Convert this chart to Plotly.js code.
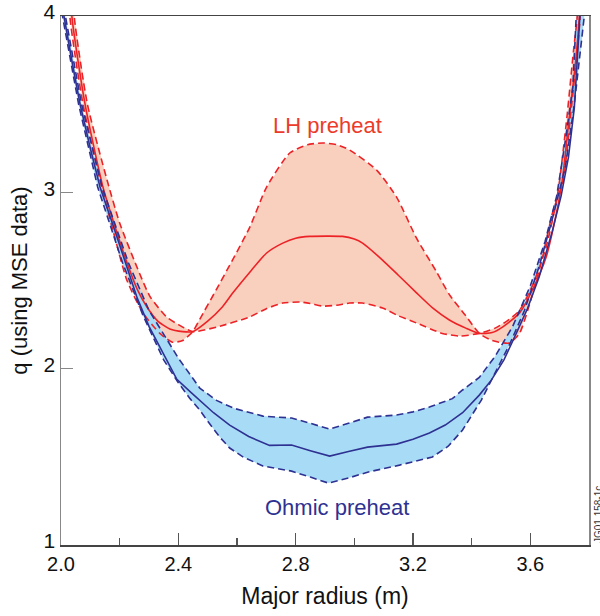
<!DOCTYPE html>
<html><head><meta charset="utf-8">
<script src="https://cdn.plot.ly/plotly-3.0.1.min.js"></script>
<style>html,body{margin:0;padding:0;background:#fff}#chart{width:600px;height:616px}</style>
</head><body><div id="chart"></div>
<script>
// Ohmic preheat (blue): centre, upper and lower bounds
const ohmicMidX = [2.0,2.01,2.04,2.065,2.1,2.133,2.18,2.225,2.26,2.3,2.35,2.395,2.44,2.473,2.52,2.575,2.64,2.711,2.786,2.85,2.916,2.98,3.045,3.144,3.2,3.256,3.31,3.369,3.426,3.467,3.51,3.552,3.59,3.63,3.675,3.705,3.73,3.75,3.77,3.78];
const ohmicMidY = [4.3,4.0,3.72,3.5,3.25,3.03,2.8,2.57,2.40,2.24,2.08,1.94,1.87,1.82,1.75,1.68,1.615,1.565,1.567,1.535,1.504,1.53,1.555,1.572,1.60,1.635,1.68,1.75,1.85,1.935,2.05,2.20,2.34,2.52,2.78,2.98,3.2,3.48,4.0,4.3];
const ohmicHiX = [2.005,2.015,2.07,2.14,2.23,2.3,2.4,2.473,2.53,2.59,2.688,2.786,2.85,2.916,2.98,3.045,3.144,3.2,3.256,3.334,3.369,3.426,3.48,3.54,3.6,3.65,3.69,3.72,3.745,3.757,3.765];
const ohmicHiY = [4.3,4.0,3.5,3.03,2.6,2.33,2.06,1.89,1.82,1.775,1.731,1.72,1.69,1.657,1.69,1.725,1.737,1.755,1.782,1.83,1.879,1.95,2.07,2.24,2.47,2.72,2.98,3.3,3.6,4.0,4.3];
const ohmicLoX = [2.0,2.005,2.06,2.125,2.21,2.28,2.35,2.40,2.44,2.473,2.51,2.541,2.575,2.62,2.688,2.786,2.85,2.912,2.98,3.045,3.154,3.266,3.32,3.369,3.433,3.48,3.53,3.58,3.63,3.68,3.72,3.75,3.775,3.784,3.79];
const ohmicLoY = [4.15,4.0,3.5,3.03,2.6,2.3,2.05,1.92,1.83,1.765,1.68,1.612,1.55,1.50,1.448,1.419,1.385,1.351,1.38,1.413,1.453,1.499,1.56,1.652,1.822,1.98,2.14,2.33,2.58,2.88,3.15,3.5,3.85,4.0,4.3];

// LH preheat (red): centre and the two bounds
const lhMidX = [2.03,2.037,2.082,2.143,2.185,2.225,2.26,2.293,2.33,2.371,2.415,2.449,2.5,2.55,2.586,2.65,2.701,2.756,2.8,2.848,2.96,3.0,3.028,3.096,3.15,3.212,3.27,3.324,3.38,3.426,3.47,3.505,3.563,3.607,3.654,3.689,3.709,3.733,3.755,3.767,3.775];
const lhMidY = [4.3,4.0,3.5,3.03,2.8,2.60,2.45,2.35,2.27,2.225,2.21,2.21,2.27,2.35,2.43,2.56,2.656,2.712,2.74,2.75,2.75,2.735,2.712,2.616,2.53,2.43,2.34,2.276,2.23,2.20,2.205,2.236,2.315,2.446,2.633,2.883,3.07,3.43,3.75,4.0,4.3];
const lhHiX = [2.025,2.03,2.075,2.133,2.177,2.225,2.28,2.337,2.38,2.415,2.449,2.473,2.53,2.586,2.643,2.701,2.78,2.84,2.892,2.94,2.984,3.076,3.144,3.212,3.28,3.324,3.38,3.426,3.47,3.528,3.563,3.6,3.64,3.675,3.712,3.738,3.76,3.77,3.777];
const lhHiY = [4.3,4.0,3.5,3.07,2.786,2.50,2.315,2.20,2.15,2.16,2.21,2.28,2.45,2.62,2.80,3.03,3.223,3.27,3.28,3.27,3.24,3.126,2.973,2.74,2.55,2.42,2.30,2.20,2.16,2.145,2.2,2.38,2.62,2.88,3.07,3.45,3.8,4.0,4.3];
const lhLoX = [2.04,2.045,2.09,2.157,2.20,2.259,2.303,2.36,2.40,2.449,2.531,2.643,2.70,2.756,2.814,2.85,2.892,2.94,2.984,3.028,3.096,3.15,3.212,3.30,3.36,3.426,3.48,3.52,3.563,3.607,3.654,3.689,3.70,3.725,3.747,3.76,3.765];
const lhLoY = [4.3,4.0,3.5,3.07,2.826,2.576,2.41,2.293,2.25,2.21,2.236,2.293,2.34,2.372,2.378,2.37,2.355,2.36,2.372,2.372,2.344,2.30,2.259,2.20,2.185,2.20,2.23,2.27,2.33,2.47,2.69,2.95,3.07,3.43,3.8,4.0,4.3];

const xTickVals = [2.0,2.4,2.8,3.2,3.6];
const xTickText = ['2.0','2.4','2.8','3.2','3.6'];
const yTickVals = [1,2,3,4];

const RED='#ec2227', REDFILL='#f9cfbd', BLUE='#2e3192', BLUEFILL='#a8dcf6';
function band(xa,ya,xb,yb,color){
  return {x: xa.concat(xb.slice().reverse()), y: ya.concat(yb.slice().reverse()),
    mode:'lines', fill:'toself', fillcolor:color, line:{width:0,color:color}, hoverinfo:'skip', showlegend:false};
}
function line(x,y,color,dash){
  return {x:x,y:y,mode:'lines',line:{color:color,width:1.6,dash:dash,shape:'spline',smoothing:0.6},showlegend:false};
}
function lineLin(x,y,color,dash){
  return {x:x,y:y,mode:'lines',line:{color:color,width:1.6,dash:dash},showlegend:false};
}
const DASH='7px,4px';
const data = [
  band(lhHiX,lhHiY,lhLoX,lhLoY,REDFILL),
  band(ohmicHiX,ohmicHiY,ohmicLoX,ohmicLoY,BLUEFILL),
  line(lhHiX,lhHiY,RED,DASH),
  line(lhLoX,lhLoY,RED,DASH),
  line(lhMidX,lhMidY,RED,'solid'),
  lineLin(ohmicHiX,ohmicHiY,BLUE,DASH),
  lineLin(ohmicLoX,ohmicLoY,BLUE,DASH),
  lineLin(ohmicMidX,ohmicMidY,BLUE,'solid')
];
const FONT='"Liberation Sans", Arial, Helvetica, sans-serif';
const layout = {
  width:600, height:616,
  margin:{l:61,r:11,t:16,b:71},
  paper_bgcolor:'#fff', plot_bgcolor:'#fff',
  font:{family:FONT,color:'#111',size:20},
  showlegend:false,
  xaxis:{range:[2.0,3.8],tickvals:xTickVals,ticktext:xTickText,ticks:'inside',ticklen:12,tickwidth:1.3,tickcolor:'#555',
    minor:{dtick:0.2,tick0:2.0,ticks:'inside',ticklen:7,tickwidth:1.3,tickcolor:'#555',showgrid:false},
    showgrid:false,zeroline:false,showline:true,mirror:true,linecolor:'#444',linewidth:1.5,
    tickfont:{size:20,family:FONT,color:'#111'},
    title:{text:'Major radius (m)',font:{size:23,family:FONT,color:'#111'},standoff:14}},
  yaxis:{range:[1,4],tickvals:yTickVals,ticks:'inside',ticklen:12,tickwidth:1.3,tickcolor:'#888',ticklabelshift:-4,ticklabeloverflow:'allow',
    showgrid:false,zeroline:false,showline:true,mirror:true,linecolor:'#888',linewidth:1.5,
    tickfont:{size:21,family:FONT,color:'#111'},
    title:{text:'q (using MSE data)',font:{size:22,family:FONT,color:'#111'},standoff:10}},
  annotations:[
    {x:2.909,y:3.38,xref:'x',yref:'y',text:'LH preheat',showarrow:false,font:{size:22,family:FONT,color:'#ec3b2a'}},
    {x:2.94,y:1.21,xref:'x',yref:'y',text:'Ohmic preheat',showarrow:false,font:{size:22,family:FONT,color:'#2e3192'}},
    {x:1,y:0,xref:'paper',yref:'paper',xanchor:'left',yanchor:'bottom',xshift:2,text:'JG01.158-1c',textangle:-90,showarrow:false,font:{size:10,family:FONT,color:'#333'}}
  ]
};
Plotly.newPlot('chart',data,layout,{displayModeBar:false,staticPlot:true});
</script></body></html>
